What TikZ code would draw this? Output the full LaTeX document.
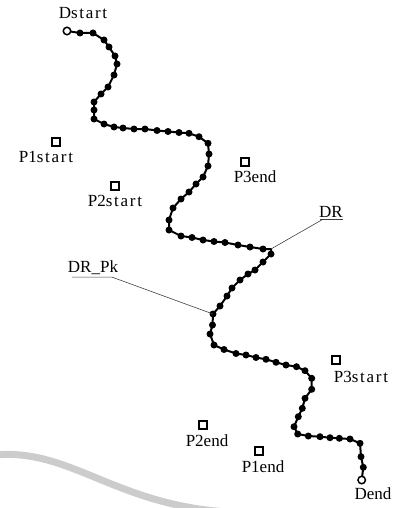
\documentclass[tikz,border=0pt]{standalone}
\usepackage{fontspec}
\setmainfont{Liberation Serif}
\newfontfamily\spaced[LetterSpace=10]{Liberation Serif}
\usepackage{tikz}

\begin{document}
\begin{tikzpicture}[
  x=1pt, y=-1pt,
  route/.style={line width=2pt, line join=round},
  dot/.style={fill=black},
  endpt/.style={circle, draw, line width=1.5pt, fill=white, inner sep=0pt, minimum size=7.5pt},
  marker/.style={rectangle, draw, line width=1.6pt, inner sep=0pt, minimum size=7.5pt},
  lbl/.style={inner sep=0pt, font=\fontsize{17}{19}\selectfont},
  leader/.style={line width=0.6pt, black!75},
  swoosh/.style={line width=7pt, black!20, line cap=round}
]
  \useasboundingbox (0,0) rectangle (395,508);

  % background swoosh
  \draw[swoosh] (-5,455) .. controls (70,448) and (115,505) .. (228,512);

  % route points
  \foreach \x/\y [count=\i] in {
    80/33,93/33,104/40,109/47,115/56,117/64,114/75,108/87,
    101/94,94/102,94/110,94/119,104/124,114/127,123/128,134/129,
    145/129,157/130.5,168/131.5,179/132.5,189/133.3,199/136.7,208/143.3,209/154,
    208/166,203/177,196/184,189/192,181/199,173/208,169/220,169/230,
    181/236,192/237.5,203/240,214/241.5,225/242.5,238/245,250/247,263/249,
    271/254,263/262,255/270,248/274,240/280,232/288,227/296,220/306,
    213/314,212.5/325,210/334,214/345,224/349.5,236/353.5,246/355,256/357.5,
    266/359.3,276/362.3,286/365,296.5/366.7,305/370.7,311.7/378.3,311.7/389.3,305/398.3,
    302.3/408.3,298.3/416.7,294/426.7,297.7/434,308.3/436,320/436.7,330/437.7,339.3/438.3,
    350/439,360/443.3,361/456.7,363.3/467.3}
    \coordinate (d\i) at (\x,\y);
  \coordinate (kink) at (271,249);
  \coordinate (ds) at (67,31);
  \coordinate (de) at (361.7,480);

  \draw[route] (ds)
    \foreach \i in {1,...,40} {-- (d\i)} -- (kink)
    \foreach \i in {41,...,76} {-- (d\i)} -- (de);
  \foreach \i in {1,...,76}
    \fill[dot] (d\i) circle (3.5pt);

  \node[endpt] (dstart) at (ds) {};
  \node[endpt] (dend) at (de) {};
  \node[lbl] (dstartl) at (83,13) {D{\spaced start}};
  \node[lbl] (dendl) at (373,494) {Dend};

  % the points
  \node[marker] (p1s) at (56,142) {};
  \node[lbl] (p1sl) at (46,157) {P1{\spaced start}};
  \node[marker] (p2s) at (115,186) {};
  \node[lbl] (p2sl) at (115,201) {P2{\spaced start}};
  \node[marker] (p3s) at (336,360) {};
  \node[lbl] (p3sl) at (361,377) {P3{\spaced start}};
  \node[marker] (p1e) at (259,451) {};
  \node[lbl] (p1el) at (263,467) {P1end};
  \node[marker] (p2e) at (203,425) {};
  \node[lbl] (p2el) at (207,441) {P2end};
  \node[marker] (p3e) at (245,162) {};
  \node[lbl] (p3el) at (255,177) {P3end};

  % callouts
  \node[lbl] (dr) at (331,212) {DR};
  \draw[leader] ([xshift=1pt,yshift=-2pt]dr.south west) -- ([yshift=-2pt]dr.south east);
  \draw[leader] ([xshift=3pt,yshift=-2pt]dr.south west) -- (kink);
  \node[lbl] (drpk) at (93,268) {DR\_Pk};
  \draw[leader] ([xshift=4pt,yshift=-2pt]drpk.south west) -- ([xshift=-6pt,yshift=-2pt]drpk.south east) -- (d49);
\end{tikzpicture}
\end{document}
